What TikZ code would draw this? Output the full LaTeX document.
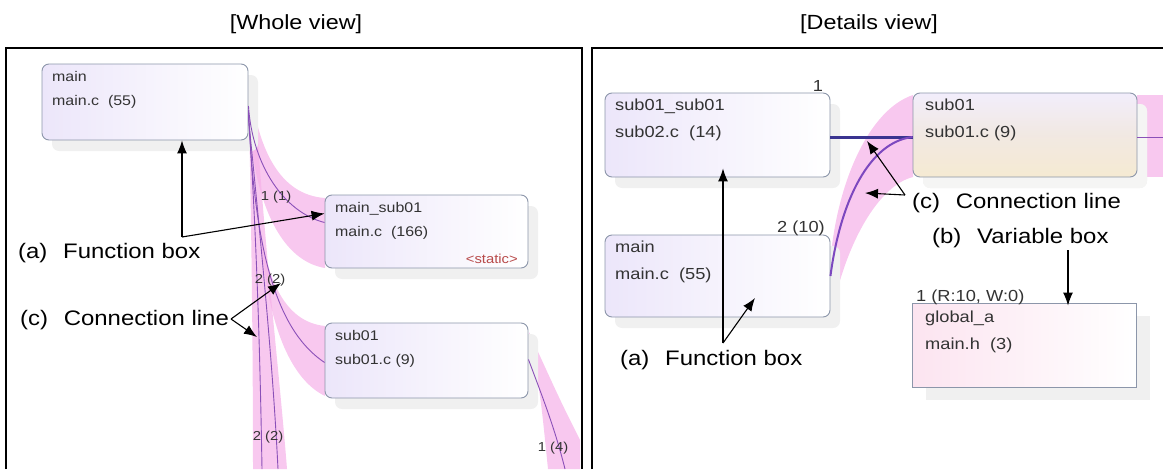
\documentclass[tikz,border=0pt]{standalone}
\usepackage{fontspec}
\setmainfont{Liberation Sans}[FakeStretch=1.14]
\usetikzlibrary{arrows.meta,shadows}
\definecolor{BoxEdge}{HTML}{8C96AA}
\definecolor{BoxLilac}{HTML}{ECE6FA}
\definecolor{VarPink}{HTML}{FCE4F0}
\definecolor{SubTan}{HTML}{F5EAD2}
\definecolor{BandPink}{HTML}{F5B0E8}
\definecolor{LinePurple}{HTML}{8A50B8}
\definecolor{LineNavy}{HTML}{3A3490}
\definecolor{TextGray}{HTML}{333333}
\definecolor{StaticRed}{HTML}{B84A4A}
\tikzset{
  fnbox/.style={draw=BoxEdge,line width=0.9pt,rounded corners=7pt,
    left color=BoxLilac,right color=white,inner sep=0pt,
    drop shadow={shadow xshift=10pt,shadow yshift=-11pt,fill=black!6,opacity=1}},
  varbox/.style={draw=BoxEdge,line width=0.9pt,
    left color=VarPink,right color=white,inner sep=0pt,
    drop shadow={shadow xshift=14pt,shadow yshift=-13pt,fill=black!6,opacity=1}},
  wtext/.style={anchor=north west,inner sep=0pt,align=left,
    font=\fontsize{14}{24}\selectfont,text=TextGray},
  dtext/.style={anchor=north west,inner sep=0pt,align=left,
    font=\fontsize{16}{27}\selectfont,text=TextGray},
  cnt/.style={inner sep=0pt,font=\fontsize{13}{15}\selectfont,text=TextGray},
  lbl/.style={anchor=west,inner sep=0pt,font=\fontsize{21}{25}\selectfont},
  title/.style={inner sep=0pt,font=\fontsize{20.5}{24}\selectfont},
  frame/.style={line width=2.4pt},
  band/.style={fill=BandPink,opacity=0.7},
  wline/.style={draw=LinePurple,line width=0.9pt},
  dline/.style={draw=LinePurple!90!blue,line width=2pt},
  callout/.style={line width=1.1pt,-{Latex[length=13pt,width=10pt]}},
}
\begin{document}
\begin{tikzpicture}[x=1pt,y=-1pt]
  \useasboundingbox (0,0) rectangle (1163,469);
  % titles and panel frames
  \node[title] (ttlW) at (296,24) {[Whole view]};
  \node[title] (ttlD) at (869,24) {[Details view]};
  \draw[frame] (6,469) |- (582,48) -- (582,469);
  \draw[frame] (592,469) |- (1163,48);

  % ---- whole view ----
  \fill[band] (249,75) .. controls (256,150) and (280,195) .. (325,198)
    -- (325,268) .. controls (288,262) and (262,220) .. (252,150) -- cycle;
  \fill[band] (256,190) .. controls (262,280) and (285,322) .. (325,326)
    -- (325,396) .. controls (292,380) and (270,330) .. (262,250) -- cycle;
  \fill[band] (249,120) .. controls (252,250) and (253,380) .. (253,469)
    -- (287,469) .. controls (280,380) and (265,250) .. (258,140) -- cycle;
  \fill[band] (529,340) .. controls (540,390) .. (548,469)
    -- (580,469) -- (580,440) .. controls (560,400) .. (529,332) -- cycle;

  \node[fnbox,minimum width=206pt,minimum height=76pt] (mainW) at (145,102) {};
  \node[fnbox,minimum width=203pt,minimum height=73pt] (mainsubW) at (426.5,231.5) {};
  \node[fnbox,minimum width=203pt,minimum height=75pt] (subW) at (426.5,360.5) {};
  \node[wtext] (mainWt) at (52,71) {main\\main.c\ \ (55)};
  \node[wtext] (mainsubWt) at (335,202) {main\_sub01\\main.c\ \ (166)};
  \node[cnt,text=StaticRed,anchor=east] (staticW) at (518,259) {<static>};
  \node[wtext] (subWt) at (335,330) {sub01\\sub01.c (9)};

  \draw[wline] ([yshift=-4pt]mainW.east) .. controls +(4,60) and +(-40,-10) .. ([yshift=9pt]mainsubW.west);
  \draw[wline] ([yshift=-8pt]mainW.east) .. controls +(6,150) and +(-45,-30) .. ([yshift=-2pt]subW.west);
  \coordinate (downW1) at (262,469);
  \coordinate (downW2) at (278,469);
  \coordinate (downW3) at (565,469);
  \draw[wline] ([yshift=-12pt]mainW.east) .. controls +(8,120) and +(-2,-120) .. (downW1);
  \draw[wline] ([yshift=-16pt]mainW.east) .. controls +(15,150) and +(-5,-100) .. (downW2);
  \draw[wline] ([yshift=1pt]subW.east) .. controls +(15,40) and +(-10,-40) .. (downW3);

  \node[cnt] (cnt1W) at (276,197) {1 (1)};
  \node[cnt] (cnt2W) at (270,280) {2 (2)};
  \node[cnt] (cnt3W) at (268,437) {2 (2)};
  \node[cnt] (cnt4W) at (553,448) {1 (4)};

  \node[lbl] (lblaW) at (18,253) {(a)\hspace{0.75em}Function box};
  \node[lbl] (lblcW) at (20,320) {(c)\hspace{0.75em}Connection line};
  \coordinate (aW) at (182,237);
  \draw[callout] (aW) -- (mainW.south -| aW);
  \draw[callout] (aW) -- ([yshift=18pt]mainsubW.west);
  \coordinate (cW) at (231,319);
  \coordinate (cW1) at (281,283);
  \coordinate (cW2) at (257,337);
  \draw[callout] (cW) -- (cW1);
  \draw[callout] (cW) -- (cW2);

  % ---- details view ----
  \fill[band] (830,265) .. controls (836,185) and (868,110) .. (913,95)
    -- (913,177) .. controls (880,185) and (846,240) .. (831,317) -- cycle;
  \fill[band] (1137,95) rectangle (1163,177);

  \node[fnbox,minimum width=225pt,minimum height=84pt] (subsubD) at (717.5,135) {};
  \node[fnbox,minimum width=225pt,minimum height=82pt] (mainD) at (717.5,276) {};
  \node[fnbox,top color=BoxLilac!70,bottom color=SubTan,middle color=SubTan!60!BoxLilac,
    drop shadow={shadow xshift=10pt,shadow yshift=-11pt,fill=yellow!8!black!5,opacity=1},
    minimum width=224pt,minimum height=84pt] (subD) at (1025,135) {};
  \node[varbox,minimum width=224pt,minimum height=84pt] (varD) at (1024,345) {};
  \node[dtext] (subsubDt) at (615,99) {sub01\_sub01\\sub02.c\ \ (14)};
  \node[dtext] (mainDt) at (615,241) {main\\main.c\ \ (55)};
  \node[dtext] (subDt) at (925,99) {sub01\\sub01.c (9)};
  \node[dtext] (varDt) at (925,311) {global\_a\\main.h\ \ (3)};

  \coordinate (rightD) at (1163,137);
  \draw[draw=LineNavy,line width=3pt] ([yshift=-2pt]subsubD.east) -- ([yshift=-2pt]subD.west);
  \draw[dline] (mainD.east) .. controls +(10,-76) and +(-43,5) .. ([yshift=-2pt]subD.west);
  \draw[wline] ([yshift=-2pt]subD.east) -- (rightD);

  \node[cnt,font=\fontsize{16}{18}\selectfont] (cnt1D) at (818,86) {1};
  \node[cnt,font=\fontsize{16}{18}\selectfont] (cnt2D) at (801,228) {2 (10)};
  \node[cnt,font=\fontsize{16}{18}\selectfont,anchor=west] (cnt3D) at (916,297) {1 (R:10, W:0)};

  \node[lbl] (lblaD) at (620,360) {(a)\hspace{0.75em}Function box};
  \node[lbl] (lblcD) at (912,203) {(c)\hspace{0.75em}Connection line};
  \node[lbl] (lblbD) at (932,238) {(b)\hspace{0.75em}Variable box};
  \coordinate (aD) at (723,343);
  \coordinate (aD2) at (755,298);
  \draw[callout] (aD) -- ([yshift=9pt]subsubD.south -| aD);
  \draw[callout] (aD) -- (aD2);
  \coordinate (cD) at (905,195);
  \coordinate (cD1) at (867,141);
  \coordinate (cD2) at (865,193);
  \draw[callout] (cD) -- (cD1);
  \draw[callout] (cD) -- (cD2);
  \coordinate (bD) at (1068,250);
  \draw[callout] (bD) -- ([yshift=-3pt]varD.north -| bD);
\end{tikzpicture}
\end{document}
